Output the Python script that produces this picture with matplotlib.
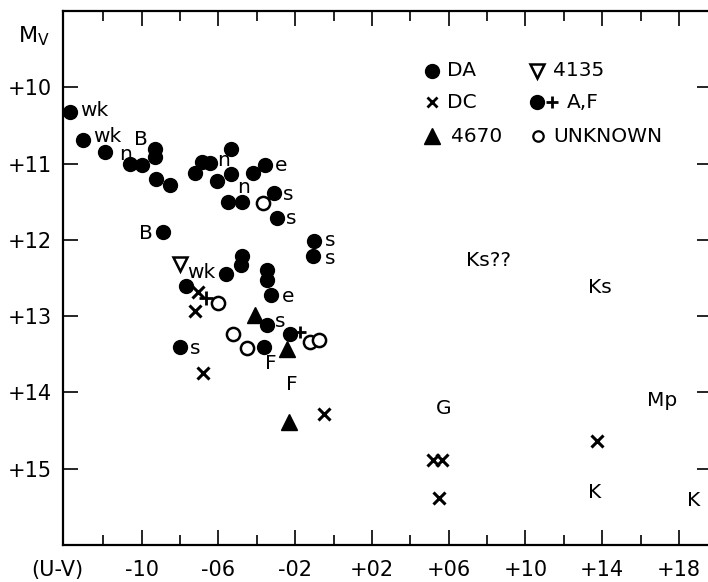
import matplotlib
matplotlib.use("Agg")
import matplotlib.pyplot as plt
from matplotlib.ticker import FixedLocator

plt.rcParams["font.family"] = ["DejaVu Sans"]
plt.rcParams["mathtext.fontset"] = "dejavusans"

# (U-V) colour and absolute magnitude M_V for each white dwarf class
da_uv = [-1.374, -1.307, -1.191, -1.061, -1.000, -0.931, -0.931, -0.925, -0.853,
         -0.722, -0.687, -0.644, -0.536, -0.609, -0.536, -0.549, -0.479, -0.422,
         -0.357, -0.309, -0.297, -0.887, -0.102, -0.106, -0.479, -0.484, -0.771,
         -0.561, -0.349, -0.349, -0.326, -0.349, -0.800, -0.363]
da_mv = [10.32, 10.69, 10.85, 11.01, 11.02, 10.81, 10.92, 11.20, 11.28,
         11.12, 10.98, 10.99, 10.81, 11.23, 11.14, 11.51, 11.51, 11.13,
         11.02, 11.39, 11.71, 11.90, 12.02, 12.21, 12.21, 12.33, 12.60,
         12.45, 12.40, 12.53, 12.72, 13.12, 13.41, 13.41]

dc_uv = [-0.705, -0.722, -0.679, -0.050, 0.518, 0.563, 0.549, 1.373]
dc_mv = [12.69, 12.93, 13.74, 14.28, 14.89, 14.89, 15.39, 14.64]

l4670_uv = [-0.410, -0.244, -0.231]
l4670_mv = [12.99, 13.43, 14.39]

l4135_uv = [-0.800]
l4135_mv = [12.32]

af_uv = [-0.227]
af_mv = [13.23]

plus_uv = [-0.663]
plus_mv = [12.76]

unk_uv = [-0.370, -0.601, -0.523, -0.453, -0.123, -0.075]
unk_mv = [11.52, 12.83, 13.23, 13.42, 13.34, 13.31]

# spectral notes written beside the stars
note_uv = [-1.322, -1.254, -1.115, -1.040, -0.608, -0.503, -0.305, -0.264, -0.248,
           -1.014, -0.045, -0.045, -0.764, -0.269, -0.305, -0.748, -0.357, -0.248,
           0.690, 1.326, 0.533, 1.633, 1.326, 1.842]
note_mv = [10.31, 10.65, 10.88, 10.69, 10.96, 11.32, 11.02, 11.40, 11.72,
           11.92, 12.01, 12.25, 12.43, 12.74, 13.07, 13.43, 13.62, 13.90,
           12.27, 12.63, 14.21, 14.11, 15.31, 15.42]
note_txt = ["wk", "wk", "n", "B", "n", "n", "e", "s", "s",
            "B", "s", "s", "wk", "e", "s", "s", "F", "F",
            "Ks??", "Ks", "G", "Mp", "K", "K"]

x_major = [-1.0, -0.6, -0.2, 0.2, 0.6, 1.0, 1.4, 1.8]
x_minor = [-1.2, -0.8, -0.4, 0.0, 0.4, 0.8, 1.2, 1.6]
x_labels = ["-10", "-06", "-02", "+02", "+06", "+10", "+14", "+18"]
y_major = [10, 11, 12, 13, 14, 15]
y_labels = ["+10", "+11", "+12", "+13", "+14", "+15"]

W, H = 708, 582
fig = plt.figure(figsize=(W / 100, H / 100), dpi=100)
ax = fig.add_axes([63 / W, 37 / H, (712 - 63) / W, (545 - 11) / H])
ax.set_xlim(-1.410, 1.972)
ax.set_ylim(16.0, 9.0)

for s in ax.spines.values():
    s.set_linewidth(1.6)

ax.xaxis.set_major_locator(FixedLocator(x_major))
ax.xaxis.set_minor_locator(FixedLocator(x_minor))
ax.set_xticklabels(x_labels)
ax.yaxis.set_major_locator(FixedLocator(y_major))
ax.set_yticklabels(y_labels)
ax.tick_params(axis="both", which="major", direction="in", length=11, width=1.2,
               top=True, right=True, labelsize=15)
ax.tick_params(axis="both", which="minor", direction="in", length=7.5, width=1.2,
               top=True, right=True)
ax.tick_params(axis="x", which="major", pad=11)
ax.tick_params(axis="y", which="major", pad=8)

fs = 14.5
# data points
ax.plot(da_uv, da_mv, "o", color="black", ms=10, ls="none")
ax.plot(af_uv, af_mv, "o", color="black", ms=10, ls="none")
ax.plot(af_uv, af_mv, "+", color="black", ms=9, mew=2, ls="none",
        transform=matplotlib.transforms.offset_copy(ax.transData, fig=fig, x=7.5, y=1.5, units="points"))
ax.plot(plus_uv, plus_mv, "+", color="black", ms=10, mew=2, ls="none")
ax.plot(dc_uv, dc_mv, "x", color="black", ms=9, mew=2.2, ls="none")
ax.plot(l4670_uv, l4670_mv, "^", color="black", ms=11, ls="none")
ax.plot(l4135_uv, l4135_mv, "v", mfc="white", mec="black", ms=10, mew=1.8, ls="none")
ax.plot(unk_uv, unk_mv, "o", mfc="white", mec="black", ms=9.5, mew=1.8, ls="none")

for x, y, t in zip(note_uv, note_mv, note_txt):
    ax.text(x, y, t, fontsize=fs, ha="left", va="center")

# key to the symbols
T = ax.transAxes
def px(xp, yp):
    return ((xp - 63) / (712 - 63), (545 - yp) / (545 - 11))

def key_marker(xp, yp, **kw):
    ax.plot(*[[v] for v in px(xp, yp)], transform=T, color="black", ls="none", **kw)

key_marker(432, 71, marker="o", ms=10)
key_marker(432, 102, marker="x", ms=7.5, mew=2)
key_marker(432, 136, marker="^", ms=11)
key_marker(537, 71, marker="v", mfc="white", ms=10, mew=1.8)
key_marker(537, 102, marker="o", ms=10)
key_marker(552, 102, marker="+", ms=9, mew=2)
key_marker(538, 136, marker="o", mfc="white", ms=7.5, mew=1.6)
for xp, yp, t in [(447, 71, "DA"), (447, 102, "DC"), (451, 136, "4670"),
                  (553, 71, "4135"), (567, 102, "A,F"), (553, 136, "UNKNOWN")]:
    ax.text(*px(xp, yp), t, transform=T, fontsize=fs, ha="left", va="center")

fig.text(31 / W, 1 - 570 / H, "(U-V)", fontsize=15, ha="left", va="center")
fig.text(18 / W, 1 - 36 / H, r"$\mathrm{M}_{\mathrm{V}}$", fontsize=16, ha="left", va="center")

fig.savefig("out.png", dpi=100)
